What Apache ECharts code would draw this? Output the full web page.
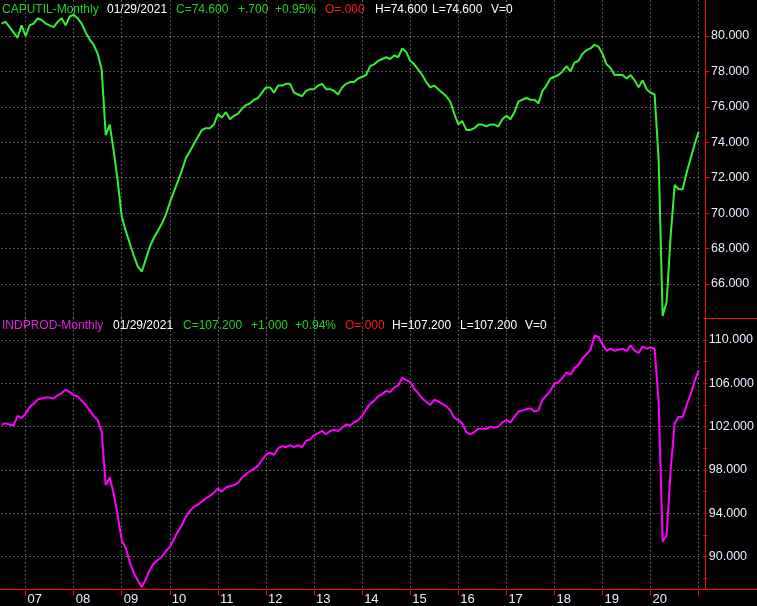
<!DOCTYPE html>
<html><head><meta charset="utf-8">
<script src="https://cdn.jsdelivr.net/npm/echarts@6/dist/echarts.min.js"></script>
<style>html,body{margin:0;padding:0;background:#000;}#c{width:757px;height:606px;}</style>
</head><body><div id="c"></div>
<script>
// Monthly data, Jul 2006 .. Jan 2021
const startYear = 2006, startMonth = 7;
const caputil = [
  80.7, 80.8, 80.5, 80.2, 79.9, 80.6,
  80.0, 80.6, 80.7, 81.0, 80.9, 80.7, 80.6, 80.5, 80.8, 81.0, 80.6, 81.1,
  81.2, 81.0, 80.7, 80.2, 79.8, 79.5, 79.0, 78.1, 74.4, 75.0, 73.5, 71.8,
  69.8, 69.0, 68.3, 67.6, 67.0, 66.7, 67.4, 68.1, 68.6, 69.0, 69.4, 69.9,
  70.6, 71.2, 71.8, 72.4, 73.1, 73.5, 73.9, 74.3, 74.7, 74.8, 74.8, 75.0,
  75.6, 75.4, 75.7, 75.3, 75.5, 75.6, 75.9, 76.1, 76.2, 76.4, 76.5, 76.8,
  77.1, 77.1, 76.8, 77.2, 77.2, 77.3, 77.3, 76.8, 76.7, 76.6, 76.9, 77.0,
  77.0, 77.2, 77.3, 77.0, 77.0, 76.9, 76.7, 77.1, 77.3, 77.4, 77.4, 77.6,
  77.7, 77.8, 78.3, 78.4, 78.6, 78.7, 78.8, 78.7, 78.9, 78.8, 79.3, 79.1,
  78.6, 78.4, 78.1, 77.8, 77.4, 77.1, 77.2, 77.0, 76.8, 76.6, 76.3, 75.6,
  75.0, 75.2, 74.7, 74.7, 74.8, 75.0, 75.0, 74.9, 75.0, 75.0, 74.9, 75.3,
  75.5, 75.3, 75.7, 76.3, 76.4, 76.5, 76.4, 76.4, 76.2, 76.9, 77.2, 77.6,
  77.7, 77.8, 78.0, 78.3, 78.0, 78.5, 78.6, 79.0, 79.2, 79.3, 79.5, 79.4,
  79.0, 78.4, 78.2, 77.8, 77.8, 77.8, 77.6, 77.8, 77.5, 77.1, 77.5, 77.0,
  76.8, 76.7, 73.0, 64.2, 65.0, 68.7, 71.6, 71.35, 71.35, 72.3, 73.1, 73.9,
  74.6
];
const indprod = [
  102.2, 102.3, 102.2, 102.1, 103.0, 102.8,
  103.2, 103.8, 104.1, 104.5, 104.6, 104.7, 104.7, 104.6, 104.9, 105.1, 105.4, 105.2,
  104.9, 104.8, 104.4, 104.0, 103.5, 103.0, 102.6, 101.5, 96.6, 97.3, 95.8, 93.8,
  91.5, 90.8, 89.5, 88.5, 87.8, 87.2, 87.9, 88.8, 89.4, 89.7, 90.0, 90.5,
  90.9, 91.6, 92.3, 92.9, 93.7, 94.2, 94.6, 94.8, 95.1, 95.4, 95.6, 95.9,
  96.3, 96.0, 96.4, 96.5, 96.6, 96.8, 97.3, 97.6, 97.9, 98.1, 98.4, 98.9,
  99.4, 99.6, 99.4, 100.0, 100.2, 100.1, 100.3, 100.1, 100.3, 100.1, 100.7, 100.8,
  101.2, 101.4, 101.6, 101.3, 101.6, 101.7, 101.6, 101.9, 102.2, 102.1, 102.4, 102.6,
  103.0, 103.6, 104.1, 104.4, 104.8, 105.0, 105.3, 105.2, 105.6, 105.8, 106.5, 106.3,
  106.1, 105.5, 105.1, 104.6, 104.3, 104.0, 104.5, 104.3, 104.1, 103.9, 103.5, 102.8,
  102.6, 102.3, 101.5, 101.3, 101.5, 101.8, 101.8, 101.8, 102.0, 101.9, 102.0, 102.4,
  102.6, 102.4, 102.9, 103.4, 103.5, 103.6, 103.7, 103.4, 103.5, 104.5, 104.9, 105.3,
  106.0, 106.1, 106.5, 107.0, 106.8, 107.4, 107.7, 108.3, 108.7, 109.1, 110.4, 110.3,
  109.6, 109.0, 109.2, 109.0, 109.1, 109.2, 109.0, 109.5, 109.0, 108.8, 109.4, 109.2,
  109.3, 109.2, 104.3, 91.4, 92.0, 98.0, 102.3, 102.9, 102.9, 104.0, 105.0, 106.2,
  107.2
];
const topHeader = [
  {t:'CAPUTIL-Monthly', c:'green'}, {t:'01/29/2021', c:'white'}, {t:'C=74.600', c:'green'},
  {t:'+.700', c:'green'}, {t:'+0.95%', c:'green'}, {t:'O=.000', c:'red'},
  {t:'H=74.600', c:'white'}, {t:'L=74.600', c:'white'}, {t:'V=0', c:'white'}
];
const topHeaderX = [2, 107, 176, 238, 275, 325, 375, 432, 491];
const botHeader = [
  {t:'INDPROD-Monthly', c:'magenta'}, {t:'01/29/2021', c:'white'}, {t:'C=107.200', c:'green'},
  {t:'+1.000', c:'green'}, {t:'+0.94%', c:'green'}, {t:'O=.000', c:'red'},
  {t:'H=107.200', c:'white'}, {t:'L=107.200', c:'white'}, {t:'V=0', c:'white'}
];
const botHeaderX = [2, 113, 183, 251, 295, 345, 392, 460, 525];

const months = [];
for (let i = 0; i < caputil.length; i++) {
  const m0 = startMonth - 1 + i;
  const y = startYear + Math.floor(m0 / 12);
  const m = m0 % 12 + 1;
  months.push(y + '-' + String(m).padStart(2, '0'));
}

const COLORS = {green:'#22d022', white:'#ffffff', red:'#ff1a1a', magenta:'#e020e0'};
const FONT = "'Liberation Sans', Arial, sans-serif";
const RED = '#ff0000';
const GRID_LINE = {color:'#a8a8a8', width:1, type:[1,3]};
const isJan = (idx, val) => String(val).endsWith('-01');
const L = 1.55, R = 58.3;

const chart = echarts.init(document.getElementById('c'), null, {renderer:'canvas'});

const graphics = [];
function addHeader(items, xs, y) {
  items.forEach((it, i) => {
    graphics.push({type:'text', x: xs[i], y: y, silent:true, z:100,
      style:{text: it.t, fill: COLORS[it.c], font: '12px ' + FONT, textVerticalAlign:'middle'}});
  });
}
addHeader(topHeader, topHeaderX, 9.5);
addHeader(botHeader, botHeaderX, 325.5);
graphics.push({type:'line', shape:{x1:705.5, y1:0, x2:705.5, y2:589.5}, style:{stroke:RED, lineWidth:1}, silent:true, z:50});
graphics.push({type:'line', shape:{x1:705.5, y1:318.5, x2:757, y2:318.5}, style:{stroke:RED, lineWidth:1}, silent:true, z:50});
graphics.push({type:'line', shape:{x1:0, y1:589.5, x2:757, y2:589.5}, style:{stroke:RED, lineWidth:1}, silent:true, z:50});

const yLabel = {color:'#e8eeff', fontSize:12.5, fontFamily:FONT, margin:5.5};

chart.setOption({
  backgroundColor:'#000',
  animation:false,
  grid:[
    {left:L, right:R, top:0.57, height:318.9},
    {left:L, right:R, top:318.3, height:281.7},
    {left:L, right:R, top:318.3, height:271.2},
    {left:L, right:R, top:318.3, height:260}
  ],
  xAxis:[
    {gridIndex:0, type:'category', data:months, boundaryGap:false,
     axisLine:{show:false}, axisTick:{show:false}, axisLabel:{show:false},
     splitLine:{show:true, interval:isJan, lineStyle:GRID_LINE}},
    {gridIndex:1, type:'category', data:months, boundaryGap:false, show:false},
    {gridIndex:2, type:'category', data:months, boundaryGap:false,
     axisLine:{show:false},
     axisTick:{show:true, interval:isJan, length:6, lineStyle:{color:RED}},
     axisLabel:{show:true, interval:(idx, val) => isJan(idx, val) && !String(val).startsWith('2021'),
       formatter:(val) => String(val).slice(2,4), color:'#e8eeff', fontSize:13, fontFamily:FONT,
       margin:3, align:'left', padding:[0,0,0,2]},
     splitLine:{show:true, interval:isJan, lineStyle:GRID_LINE}},
    {gridIndex:3, type:'category', data:months, boundaryGap:false, show:false}
  ],
  yAxis:[
    {gridIndex:0, type:'value', position:'right', offset:6.8, min:64, max:82, interval:2,
     axisLine:{show:false}, axisTick:{show:true, length:4, lineStyle:{color:RED}},
     axisLabel:Object.assign({formatter:(v) => v.toFixed(3), showMinLabel:false, showMaxLabel:false}, yLabel),
     splitLine:{show:true, showMinLine:false, showMaxLine:false, lineStyle:GRID_LINE}},
    {gridIndex:1, type:'value', position:'right', min:86, max:112, interval:4,
     axisLine:{show:false}, axisTick:{show:false}, axisLabel:{show:false},
     splitLine:{show:true, showMinLine:false, showMaxLine:false, lineStyle:GRID_LINE}},
    {gridIndex:2, type:'value', show:false, min:0, max:1},
    {gridIndex:3, type:'value', position:'right', offset:6.8, min:88, max:112, interval:2,
     axisLine:{show:false}, axisTick:{show:true, length:4, lineStyle:{color:RED}},
     axisLabel:Object.assign({formatter:(v) => ((Math.round(v) - 90) % 4 === 0 ? v.toFixed(3) : '')}, yLabel),
     splitLine:{show:false}}
  ],
  series:[
    {type:'line', xAxisIndex:0, yAxisIndex:0, data:caputil, symbol:'none',
     lineStyle:{color:'#33f033', width:2}, z:10},
    {type:'line', xAxisIndex:1, yAxisIndex:1, data:indprod, symbol:'none',
     lineStyle:{color:'#ff00ff', width:2}, z:10}
  ],
  graphic:graphics
});
</script></body></html>
